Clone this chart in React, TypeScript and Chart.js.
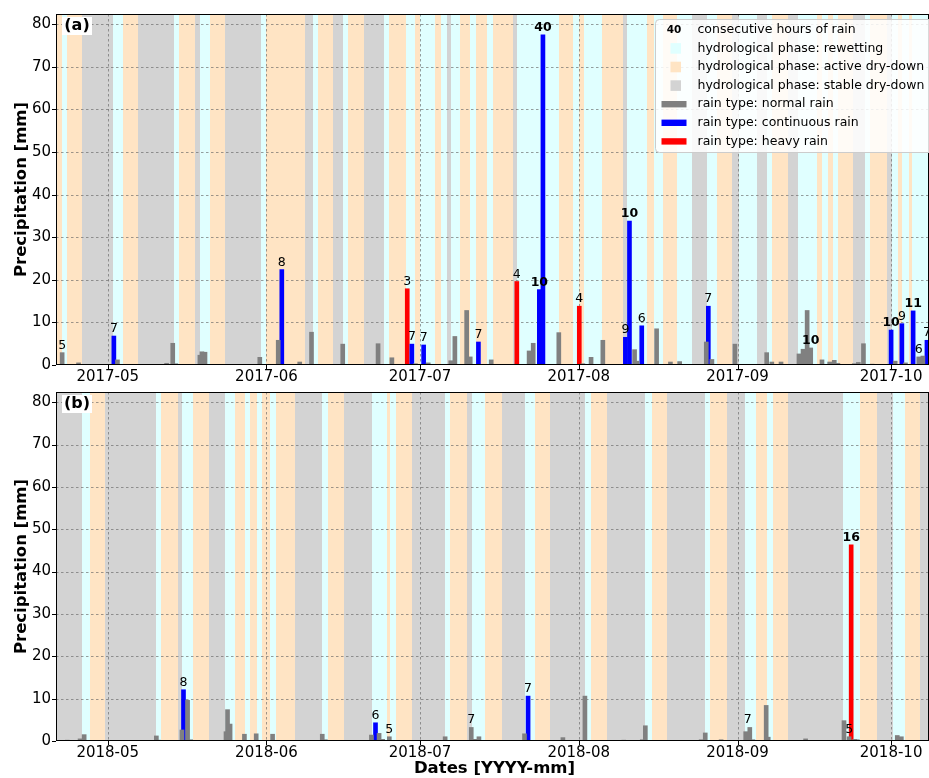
import React, { useEffect, useRef } from 'react';
import { Chart, registerables } from 'chart.js';
Chart.register(...registerables);

const FONT = '"DejaVu Sans", sans-serif';

// x values are days since 1 May of the panel's year
const X_MIN = -10.1;
const X_MAX = 160.4;
const Y_MAX = 82.4;
const monthTickDays = [0, 31, 61, 92, 123, 153];
const monthLabelsA = ['2017-05', '2017-06', '2017-07', '2017-08', '2017-09', '2017-10'];
const monthLabelsB = ['2018-05', '2018-06', '2018-07', '2018-08', '2018-09', '2018-10'];
const yTicks = [0, 10, 20, 30, 40, 50, 60, 70, 80];

// hydrological phases: [start day, kind]  R = rewetting, A = active dry-down, S = stable dry-down
const phasesA: [number, string][] = [
  [-10.1, 'A'], [-9, 'R'], [-8, 'A'], [-5, 'S'], [1, 'R'], [3, 'A'], [6, 'S'], [13, 'R'], [14, 'A'],
  [17, 'S'], [18, 'R'], [20, 'A'], [23, 'S'], [30, 'R'], [31, 'A'], [38.5, 'S'], [40, 'R'], [41, 'A'],
  [44, 'S'], [46, 'R'], [47, 'A'], [50, 'S'], [54, 'R'], [55, 'A'], [58.3, 'R'], [60, 'A'], [61, 'R'],
  [64, 'A'], [65, 'R'], [66.2, 'S'], [67, 'R'], [68.9, 'A'], [70.8, 'R'], [72, 'A'], [74, 'R'],
  [75.2, 'A'], [79.2, 'S'], [79.9, 'R'], [88.2, 'A'], [90.8, 'R'], [92.1, 'A'], [93.1, 'R'], [96.5, 'A'],
  [100.7, 'S'], [101.4, 'R'], [105.3, 'A'], [106.6, 'R'], [108.5, 'A'], [111.1, 'R'], [114.1, 'S'],
  [117, 'R'], [118.9, 'A'], [121.9, 'S'], [123.2, 'R'], [126.8, 'S'], [128.7, 'R'], [129.7, 'A'],
  [132.9, 'S'], [134.9, 'R'], [138.5, 'A'], [139.5, 'R'], [140.7, 'A'], [141.7, 'R'], [142.7, 'A'],
  [145.6, 'S'], [147.9, 'R'], [148.9, 'A'], [152.1, 'S'], [153.1, 'R'], [154.4, 'A'], [155.1, 'R'],
  [156.4, 'A'], [157, 'R'],
];
const phasesB: [number, string][] = [
  [-10.1, 'S'], [-5, 'R'], [-3.5, 'A'], [-0.5, 'S'], [9.5, 'R'], [10.5, 'A'], [13.8, 'S'], [14.6, 'R'],
  [16.7, 'A'], [19.8, 'S'], [22.9, 'R'], [24.9, 'A'], [26.8, 'R'], [27.8, 'A'], [29.1, 'R'], [30.1, 'A'],
  [31.6, 'R'], [32.9, 'A'], [36.6, 'S'], [41.8, 'R'], [43.1, 'A'], [46.2, 'S'], [51.6, 'R'], [54.5, 'A'],
  [55.1, 'R'], [56.3, 'A'], [59.4, 'S'], [65.9, 'R'], [66.9, 'A'], [70.1, 'S'], [71.1, 'R'], [73.7, 'A'],
  [76.95, 'S'], [81.5, 'R'], [83.5, 'A'], [86.4, 'S'], [93.2, 'R'], [94.3, 'A'], [97.5, 'S'], [104.9, 'R'],
  [106.25, 'A'], [109.2, 'S'], [116.6, 'R'], [117.6, 'A'], [120.9, 'S'], [124.5, 'R'], [126.6, 'A'],
  [128.7, 'R'], [130, 'A'], [132.9, 'S'], [143.7, 'R'], [146.9, 'A'], [150.2, 'S'], [153.4, 'R'],
  [155.7, 'A'], [158.6, 'S'],
];

// 2017 rain (days, mm)
const normalDaysA = [-8.9, -5.7, 1.9, 11.5, 12.7, 13.3, 18.0, 18.4, 19.0, 29.7, 33.3, 37.5, 39.8, 45.9, 52.8, 55.5, 60.1, 62.6, 67.0, 67.8, 70.1, 70.8, 74.9, 82.3, 83.1, 88.1, 92.8, 94.4, 96.7, 102.9, 103.4, 107.2, 109.9, 111.7, 116.9, 118.0, 122.5, 128.7, 129.7, 131.5, 135.0, 135.8, 136.6, 137.3, 139.5, 141.0, 141.9, 142.6, 145.8, 146.6, 147.6, 149.3, 153.8, 155.8, 158.4, 159.2];
const normalValsA = [2.9, 0.5, 1.2, 0.4, 5.1, 0.3, 2.3, 3.1, 3.0, 1.8, 5.8, 0.7, 7.7, 4.9, 5.0, 1.7, 0.3, 0.5, 1.0, 6.7, 12.8, 1.9, 1.2, 3.3, 5.1, 7.6, 0.3, 1.8, 5.8, 3.6, 0.9, 8.5, 0.7, 0.8, 5.4, 1.3, 4.9, 2.9, 0.7, 0.7, 2.6, 3.7, 12.8, 4.0, 1.2, 0.7, 1.1, 0.4, 0.3, 0.6, 5.0, 0.2, 0.9, 0.5, 1.9, 2.1];
const contDaysA = [1.2, 34.0, 59.4, 61.7, 72.4, 84.3, 85.0, 101.1, 101.9, 104.3, 117.3, 153.0, 155.1, 157.3, 160.0];
const contValsA = [6.8, 22.4, 4.9, 4.7, 5.4, 17.7, 77.5, 6.5, 33.8, 9.2, 13.8, 8.2, 9.7, 12.7, 5.8];
const heavyDaysA = [58.5, 79.9, 92.1];
const heavyValsA = [17.9, 19.6, 13.8];
// consecutive hours labels: [day, bar top mm, hours]
const hoursA: [number, number, number][] = [
  [-8.9, 2.9, 5], [1.2, 6.8, 7], [34.0, 22.4, 8], [58.5, 17.9, 3], [59.4, 4.9, 7], [61.7, 4.7, 7],
  [72.4, 5.4, 7], [79.9, 19.6, 4], [84.3, 17.7, 10], [85.0, 77.5, 40], [92.1, 13.8, 4], [101.1, 6.5, 9],
  [101.9, 33.8, 10], [104.3, 9.2, 6], [117.3, 13.8, 7], [137.3, 4.0, 10], [153.0, 8.2, 10],
  [155.1, 9.7, 9], [157.3, 12.7, 11], [158.4, 1.9, 6], [160.0, 5.8, 7],
];

// 2018 rain
const normalDaysB = [-7.9, -5.4, -4.6, 9.5, 9.9, 14.5, 15.6, 16.2, 23.1, 23.4, 23.9, 26.7, 29.0, 32.2, 41.9, 42.5, 51.5, 53.0, 53.7, 55.0, 65.9, 71.0, 71.8, 72.5, 81.4, 88.9, 93.2, 100.8, 104.4, 105.0, 115.9, 116.7, 119.8, 124.6, 125.4, 126.0, 128.6, 129.0, 136.3, 143.8, 144.8, 145.9, 146.4, 154.2, 155.0];
const normalValsB = [0.2, 0.5, 1.5, 1.2, 0.2, 2.6, 9.6, 0.3, 2.2, 7.4, 4.0, 1.6, 1.7, 1.6, 1.6, 0.3, 1.4, 1.8, 0.4, 1.0, 1.0, 3.2, 0.4, 1.0, 1.7, 0.8, 10.6, 0.2, 0.3, 3.6, 0.3, 1.9, 0.3, 2.2, 3.2, 0.3, 8.4, 0.9, 0.5, 4.8, 1.0, 0.4, 0.3, 1.3, 1.0];
const contDaysB = [14.8, 52.3, 82.1];
const contValsB = [12.1, 4.3, 10.6];
const heavyDaysB = [145.2];
const heavyValsB = [46.3];
const hoursB: [number, number, number][] = [
  [14.8, 12.1, 8], [52.3, 4.3, 6], [55.0, 1.0, 5], [71.0, 3.2, 7], [82.1, 10.6, 7], [125.0, 3.2, 7],
  [144.8, 1.0, 5], [145.2, 46.3, 16],
];

const legendLabels = [
  'consecutive hours of rain',
  'hydrological phase: rewetting',
  'hydrological phase: active dry-down',
  'hydrological phase: stable dry-down',
  'rain type: normal rain',
  'rain type: continuous rain',
  'rain type: heavy rain',
];

const PHASE_COLORS: Record<string, string> = { R: '#e0ffff', A: '#ffe4c4', S: '#d3d3d3' };
const C_NORMAL = '#808080';
const C_CONT = '#0000ff';
const C_HEAVY = '#ff0000';

type Panel = {
  phases: [number, string][];
  normalDays: number[]; normalVals: number[];
  contDays: number[]; contVals: number[];
  heavyDays: number[]; heavyVals: number[];
  hours: [number, number, number][];
  monthLabels: string[];
  letter: string;
  padTop: number;
  xAxisH: number;
  legend: boolean;
  xTitle: boolean;
};

function panelPlugin(p: Panel) {
  return {
    id: 'panelDeco',
    beforeDraw(chart: any) {
      const { ctx, chartArea: ca, scales } = chart;
      const x = scales.x;
      ctx.save();
      for (let i = 0; i < p.phases.length; i++) {
        const s = Math.max(p.phases[i][0], X_MIN);
        const e = i + 1 < p.phases.length ? p.phases[i + 1][0] : X_MAX;
        const px0 = Math.round(x.getPixelForValue(s));
        const px1 = Math.round(x.getPixelForValue(Math.min(e, X_MAX)));
        ctx.fillStyle = PHASE_COLORS[p.phases[i][1]];
        ctx.fillRect(px0, ca.top, px1 - px0, ca.bottom - ca.top);
      }
      ctx.restore();
    },
    beforeDatasetsDraw(chart: any) {
      const { ctx, chartArea: ca, scales } = chart;
      ctx.save();
      ctx.strokeStyle = 'rgba(100,100,100,0.8)';
      ctx.lineWidth = 0.8;
      ctx.setLineDash([2.5, 2.5]);
      ctx.beginPath();
      for (const v of yTicks) {
        if (v === 0) continue;
        const py = Math.round(scales.y.getPixelForValue(v)) + 0.5;
        ctx.moveTo(ca.left, py); ctx.lineTo(ca.right, py);
      }
      for (const v of monthTickDays) {
        const px = Math.round(scales.x.getPixelForValue(v)) + 0.5;
        ctx.moveTo(px, ca.top); ctx.lineTo(px, ca.bottom);
      }
      ctx.stroke();
      ctx.restore();
    },
    afterDatasetsDraw(chart: any) {
      const { ctx, chartArea: ca, scales } = chart;
      const x = scales.x, y = scales.y;
      ctx.save();
      // hour labels
      ctx.textAlign = 'center';
      ctx.textBaseline = 'alphabetic';
      ctx.fillStyle = '#000';
      for (const [d, v, h] of p.hours) {
        ctx.font = (h >= 10 ? 'bold ' : '') + '12.5px ' + FONT;
        ctx.fillText(String(h), x.getPixelForValue(d), y.getPixelForValue(v) - 4);
      }
      // frame
      ctx.strokeStyle = '#000';
      ctx.lineWidth = 1;
      ctx.strokeRect(ca.left + 0.5, ca.top + 0.5, ca.right - ca.left - 1, ca.bottom - ca.top - 1);
      // tick marks
      ctx.beginPath();
      for (const v of yTicks) {
        const py = Math.round(y.getPixelForValue(v)) + 0.5;
        ctx.moveTo(ca.left - 4, py); ctx.lineTo(ca.left, py);
      }
      for (const v of monthTickDays) {
        const px = Math.round(x.getPixelForValue(v)) + 0.5;
        ctx.moveTo(px, ca.bottom); ctx.lineTo(px, ca.bottom + 4);
      }
      ctx.stroke();
      // panel letter box
      ctx.fillStyle = '#fff';
      ctx.fillRect(ca.left + 6, ca.top + 3, 30, 18);
      ctx.fillStyle = '#000';
      ctx.font = 'bold 16px ' + FONT;
      ctx.textAlign = 'center';
      ctx.textBaseline = 'middle';
      ctx.fillText(p.letter, ca.left + 21, ca.top + 12);
      // y title
      ctx.save();
      ctx.translate(22, (ca.top + ca.bottom) / 2);
      ctx.rotate(-Math.PI / 2);
      ctx.font = 'bold 16.5px ' + FONT;
      ctx.textAlign = 'center';
      ctx.textBaseline = 'middle';
      ctx.fillText('Precipitation [mm]', 0, 0);
      ctx.restore();
      if (p.xTitle) {
        ctx.font = 'bold 16.5px ' + FONT;
        ctx.textAlign = 'center';
        ctx.textBaseline = 'middle';
        ctx.fillText('Dates [YYYY-mm]', (ca.left + ca.right) / 2 + 2, chart.height - 9);
      }
      if (p.legend) drawLegend(ctx);
      ctx.restore();
    },
  };
}

function drawLegend(ctx: CanvasRenderingContext2D) {
  const bx = 655.5, by = 19.5, bw = 290, bh = 133, r = 4;
  ctx.save();
  ctx.beginPath();
  ctx.moveTo(bx + r, by);
  ctx.lineTo(bx + bw - r, by);
  ctx.arcTo(bx + bw, by, bx + bw, by + r, r);
  ctx.lineTo(bx + bw, by + bh - r);
  ctx.arcTo(bx + bw, by + bh, bx + bw - r, by + bh, r);
  ctx.lineTo(bx + r, by + bh);
  ctx.arcTo(bx, by + bh, bx, by + bh - r, r);
  ctx.lineTo(bx, by + r);
  ctx.arcTo(bx, by, bx + r, by, r);
  ctx.closePath();
  ctx.fillStyle = 'rgba(255,255,255,0.85)';
  ctx.fill();
  ctx.strokeStyle = '#cccccc';
  ctx.lineWidth = 1;
  ctx.stroke();
  const rowY0 = 29.8, step = 18.6;
  const swatch = [null, PHASE_COLORS.R, PHASE_COLORS.A, PHASE_COLORS.S, C_NORMAL, C_CONT, C_HEAVY];
  for (let i = 0; i < legendLabels.length; i++) {
    const cy = rowY0 + i * step;
    if (i === 0) {
      ctx.fillStyle = '#000';
      ctx.font = 'bold 10.5px ' + FONT;
      ctx.textAlign = 'center';
      ctx.textBaseline = 'middle';
      ctx.fillText('40', 674, cy);
    } else if (i <= 3) {
      ctx.fillStyle = swatch[i] as string;
      ctx.fillRect(670.5, cy - 5.3, 10.5, 10.6);
    } else {
      ctx.fillStyle = swatch[i] as string;
      ctx.fillRect(661.5, cy - 3.2, 25, 6.4);
    }
    ctx.fillStyle = '#000';
    ctx.font = '12.5px ' + FONT;
    ctx.textAlign = 'left';
    ctx.textBaseline = 'middle';
    ctx.fillText(legendLabels[i], 697.5, cy);
  }
  ctx.restore();
}

function buildChart(canvas: HTMLCanvasElement, p: Panel) {
  const mk = (days: number[], vals: number[], color: string, label: string) => ({
    label,
    data: days.map((d, i) => ({ x: d, y: vals[i] })),
    backgroundColor: color,
    borderWidth: 0,
    barThickness: 4,
    grouped: false,
  });
  return new Chart(canvas, {
    type: 'bar',
    data: {
      datasets: [
        mk(p.normalDays, p.normalVals, C_NORMAL, 'rain type: normal rain'),
        mk(p.contDays, p.contVals, C_CONT, 'rain type: continuous rain'),
        mk(p.heavyDays, p.heavyVals, C_HEAVY, 'rain type: heavy rain'),
      ] as any,
    },
    options: {
      responsive: false,
      animation: false,
      events: [],
      layout: { padding: { top: p.padTop, left: 0, right: 0, bottom: 0 } },
      plugins: { legend: { display: false }, tooltip: { enabled: false } },
      scales: {
        x: {
          type: 'linear',
          min: X_MIN,
          max: X_MAX,
          offset: false,
          grid: { display: false, offset: false, drawTicks: false },
          border: { display: false },
          ticks: {
            font: { family: FONT, size: 15 },
            color: '#000',
            padding: 3,
            maxRotation: 0,
            autoSkip: false,
            callback: (v: any) => {
              const i = monthTickDays.indexOf(Number(v));
              return i >= 0 ? p.monthLabels[i] : '';
            },
          },
          afterBuildTicks: (s: any) => { s.ticks = monthTickDays.map((v) => ({ value: v })); },
          afterFit: (s: any) => { s.height = p.xAxisH; },
        },
        y: {
          type: 'linear',
          min: 0,
          max: Y_MAX,
          grid: { display: false, drawTicks: false },
          border: { display: false },
          ticks: { font: { family: FONT, size: 15 }, color: '#000', padding: 5 },
          afterBuildTicks: (s: any) => { s.ticks = yTicks.map((v) => ({ value: v })); },
          afterFit: (s: any) => { s.width = 56; },
        },
      },
    } as any,
    plugins: [panelPlugin(p) as any],
  });
}

export default function App() {
  const refA = useRef<HTMLCanvasElement>(null);
  const refB = useRef<HTMLCanvasElement>(null);
  useEffect(() => {
    const a = buildChart(refA.current!, {
      phases: phasesA, normalDays: normalDaysA, normalVals: normalValsA,
      contDays: contDaysA, contVals: contValsA, heavyDays: heavyDaysA, heavyVals: heavyValsA,
      hours: hoursA, monthLabels: monthLabelsA, letter: '(a)', padTop: 14, xAxisH: 25,
      legend: true, xTitle: false,
    });
    const b = buildChart(refB.current!, {
      phases: phasesB, normalDays: normalDaysB, normalVals: normalValsB,
      contDays: contDaysB, contVals: contValsB, heavyDays: heavyDaysB, heavyVals: heavyValsB,
      hours: hoursB, monthLabels: monthLabelsB, letter: '(b)', padTop: 9, xAxisH: 37,
      legend: false, xTitle: true,
    });
    return () => { a.destroy(); b.destroy(); };
  }, []);
  return (
    <div style={{ position: 'absolute', left: 0, top: 0, width: 929, height: 778, background: '#fff', overflow: 'hidden' }}>
      <canvas ref={refA} width={929} height={390} style={{ position: 'absolute', left: 0, top: 0, display: 'block' }} />
      <canvas ref={refB} width={929} height={400} style={{ position: 'absolute', left: 0, top: 378, display: 'block' }} />
    </div>
  );
}
